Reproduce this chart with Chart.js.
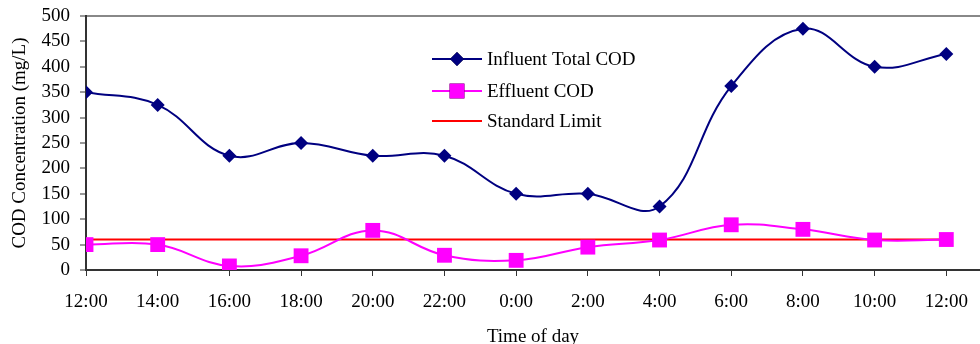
<!DOCTYPE html>
<html>
<head>
<meta charset="utf-8">
<script src="https://cdn.jsdelivr.net/npm/chart.js@4"></script>
<style>
  html, body { margin: 0; padding: 0; background: #fff; }
  #wrap { width: 980px; height: 344px; }
</style>
</head>
<body>
<div id="wrap"><canvas id="c" width="980" height="344"></canvas></div>
<script>
const timeLabels = ['12:00','14:00','16:00','18:00','20:00','22:00','0:00','2:00','4:00','6:00','8:00','10:00','12:00'];
const influentCOD = [350, 325, 225, 250, 225, 225, 150, 150, 125, 362, 475, 400, 425];
const effluentCOD = [50, 50, 8, 28, 78, 29, 19, 45, 59, 89, 80, 59, 60];
const standardLimit = [60, 60, 60, 60, 60, 60, 60, 60, 60, 60, 60, 60, 60];
const yTicks = [0, 50, 100, 150, 200, 250, 300, 350, 400, 450, 500];

const FONT = '"Liberation Serif", "Times New Roman", serif';
const toXY = arr => arr.map((v, i) => ({ x: i, y: v }));

const legendPlugin = {
  id: 'insideLegend',
  afterDraw(chart) {
    const ctx = chart.ctx;
    const rows = [59, 91, 121];
    const x0 = 432, x1 = 482, tx = 487;
    ctx.save();
    chart.data.datasets.forEach((ds, i) => {
      const y = rows[i];
      ctx.strokeStyle = ds.borderColor;
      ctx.lineWidth = ds.borderWidth;
      ctx.beginPath();
      ctx.moveTo(x0, y);
      ctx.lineTo(x1, y);
      ctx.stroke();
      if (ds.pointRadius > 0) {
        Chart.helpers.drawPoint(ctx, {
          pointStyle: ds.pointStyle,
          radius: ds.pointRadius,
          rotation: 0,
          borderWidth: 0
        }, (x0 + x1) / 2, y);
        ctx.fillStyle = ds.pointBackgroundColor;
        ctx.fill();
      }
      ctx.fillStyle = '#000';
      ctx.font = '19px ' + FONT;
      ctx.textBaseline = 'middle';
      ctx.textAlign = 'left';
      ctx.fillText(ds.label, tx, y + 1);
    });
    ctx.restore();
  }
};

new Chart(document.getElementById('c'), {
  type: 'line',
  data: {
    datasets: [
      {
        label: 'Influent Total COD',
        data: toXY(influentCOD),
        borderColor: '#000080',
        backgroundColor: '#000080',
        pointBackgroundColor: '#000080',
        pointBorderColor: '#000080',
        pointBorderWidth: 0,
        pointStyle: 'rectRot',
        pointRadius: 7,
        borderWidth: 2,
        tension: 0.4
      },
      {
        label: 'Effluent COD',
        data: toXY(effluentCOD),
        borderColor: '#FF00FF',
        backgroundColor: '#FF00FF',
        pointBackgroundColor: '#FF00FF',
        pointBorderColor: '#FF00FF',
        pointBorderWidth: 0,
        pointStyle: 'rect',
        pointRadius: 10.5,
        borderWidth: 2,
        tension: 0.4
      },
      {
        label: 'Standard Limit',
        data: toXY(standardLimit),
        borderColor: '#FF0000',
        backgroundColor: '#FF0000',
        pointBackgroundColor: '#FF0000',
        pointRadius: 0,
        borderWidth: 2,
        tension: 0
      }
    ]
  },
  options: {
    responsive: false,
    animation: false,
    layout: { autoPadding: false, padding: { top: 16, left: 0, right: 0, bottom: 0 } },
    plugins: { legend: { display: false }, tooltip: { enabled: false } },
    scales: {
      x: {
        type: 'linear',
        min: 0,
        max: 12.47,
        afterBuildTicks: s => { s.ticks = timeLabels.map((_, i) => ({ value: i })); },
        afterFit: s => { s.height = 74; s.paddingLeft = 0; s.paddingRight = 0; s.paddingTop = 0; s.paddingBottom = 0; },
        border: { display: true, color: '#333', width: 2 },
        grid: { display: true, drawOnChartArea: false, drawTicks: true, tickLength: 6, color: '#333', tickWidth: 1 },
        ticks: {
          autoSkip: false,
          maxRotation: 0,
          padding: 15,
          color: '#000',
          font: { family: FONT, size: 19 },
          callback: v => timeLabels[v]
        },
        title: {
          display: true,
          text: 'Time of day',
          color: '#000',
          font: { family: FONT, size: 19 },
          padding: { top: 0, bottom: -4 }
        }
      },
      y: {
        min: 0,
        max: 500,
        afterBuildTicks: s => { s.ticks = yTicks.map(v => ({ value: v })); },
        afterFit: s => { s.width = 86; s.paddingLeft = 0; s.paddingRight = 0; s.paddingTop = 0; s.paddingBottom = 0; },
        border: { display: true, color: '#333', width: 2 },
        grid: {
          display: true,
          drawOnChartArea: true,
          drawTicks: true,
          tickLength: 6,
          color: c => (c.tick && c.tick.value === 500) ? '#888' : 'rgba(0,0,0,0)',
          lineWidth: 2,
          tickColor: '#333',
          tickWidth: 1
        },
        ticks: {
          autoSkip: false,
          padding: 10,
          color: '#000',
          font: { family: FONT, size: 19 }
        },
        title: {
          display: true,
          text: 'COD Concentration (mg/L)',
          color: '#000',
          font: { family: FONT, size: 19 },
          padding: { top: 9, bottom: 0 }
        }
      }
    }
  },
  plugins: [legendPlugin]
});
</script>
</body>
</html>
